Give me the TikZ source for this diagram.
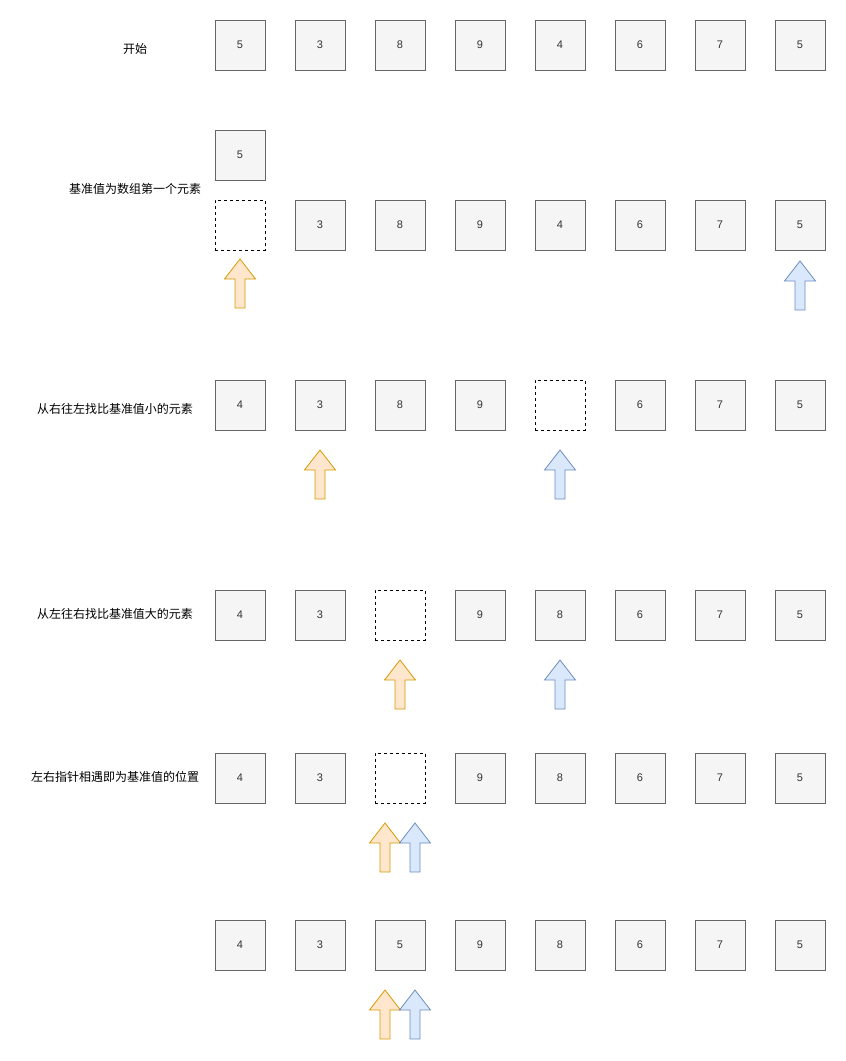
\documentclass[tikz,border=0pt]{standalone}
\usepackage{fontspec}
\setmainfont{Liberation Sans}
\newfontfamily\cjk{Noto Sans CJK SC}
\definecolor{boxfill}{HTML}{F5F5F5}
\definecolor{boxline}{HTML}{666666}
\definecolor{txt}{HTML}{333333}
\definecolor{ofill}{HTML}{FFE6CC}
\definecolor{oline}{HTML}{D79B00}
\definecolor{bfill}{HTML}{DAE8FC}
\definecolor{bline}{HTML}{6C8EBF}
\tikzset{
  cell/.style={draw=boxline,fill=boxfill,minimum width=50pt,minimum height=50pt,inner sep=0pt,text=txt,font=\fontsize{11}{13}\selectfont,line width=0.8pt},
  hole/.style={draw=black,fill=white,dashed,minimum width=50pt,minimum height=50pt,inner sep=0pt,line width=0.8pt},
  lbl/.style={font=\cjk\fontsize{12}{14}\selectfont,text=black,inner sep=0pt},
  uparrow/.pic={\draw[line width=0.8pt,pic actions] (-5,49) -- (-5,20) -- (-15.5,20) -- (0,0) -- (15.5,20) -- (5,20) -- (5,49) -- cycle;},
  parr/.style={fill=ofill,draw=oline},
  qarr/.style={fill=bfill,draw=bline}
}
\begin{document}
\begin{tikzpicture}[x=1pt,y=-1pt]
\useasboundingbox (0,0) rectangle (846,1061);
% row 1
\node[lbl] (l1) at (135,49) {开始};
\foreach \v [count=\i from 0] in {5,3,8,9,4,6,7,5}
  \node[cell] (a\i) at (240+80*\i,45) {\v};
% row 2
\node[cell] (pivot) at (240,155) {5};
\node[lbl] (l2) at (135,189) {基准值为数组第一个元素};
\node[hole] (b0) at (240,225) {};
\foreach \v [count=\i from 1] in {3,8,9,4,6,7,5}
  \node[cell] (b\i) at (240+80*\i,225) {\v};
\pic[parr] (p2) at (240,259) {uparrow};
\pic[qarr] (q2) at (800,261) {uparrow};
% row 3
\node[lbl] (l3) at (115,409) {从右往左找比基准值小的元素};
\foreach \v [count=\i from 0] in {4,3,8,9}
  \node[cell] (c\i) at (240+80*\i,405) {\v};
\node[hole] (c4) at (560,405) {};
\foreach \v [count=\i from 5] in {6,7,5}
  \node[cell] (c\i) at (240+80*\i,405) {\v};
\pic[parr] (p3) at (320,450) {uparrow};
\pic[qarr] (q3) at (560,450) {uparrow};
% row 4
\node[lbl] (l4) at (115,614) {从左往右找比基准值大的元素};
\foreach \v [count=\i from 0] in {4,3}
  \node[cell] (d\i) at (240+80*\i,615) {\v};
\node[hole] (d2) at (400,615) {};
\foreach \v [count=\i from 3] in {9,8,6,7,5}
  \node[cell] (d\i) at (240+80*\i,615) {\v};
\pic[parr] (p4) at (400,660) {uparrow};
\pic[qarr] (q4) at (560,660) {uparrow};
% row 5
\node[lbl] (l5) at (115,777) {左右指针相遇即为基准值的位置};
\foreach \v [count=\i from 0] in {4,3}
  \node[cell] (e\i) at (240+80*\i,778) {\v};
\node[hole] (e2) at (400,778) {};
\foreach \v [count=\i from 3] in {9,8,6,7,5}
  \node[cell] (e\i) at (240+80*\i,778) {\v};
\pic[parr] (p5) at (385,823) {uparrow};
\pic[qarr] (q5) at (415,823) {uparrow};
% row 6
\foreach \v [count=\i from 0] in {4,3,5,9,8,6,7,5}
  \node[cell] (f\i) at (240+80*\i,945) {\v};
\pic[parr] (p6) at (385,990) {uparrow};
\pic[qarr] (q6) at (415,990) {uparrow};
\end{tikzpicture}
\end{document}
